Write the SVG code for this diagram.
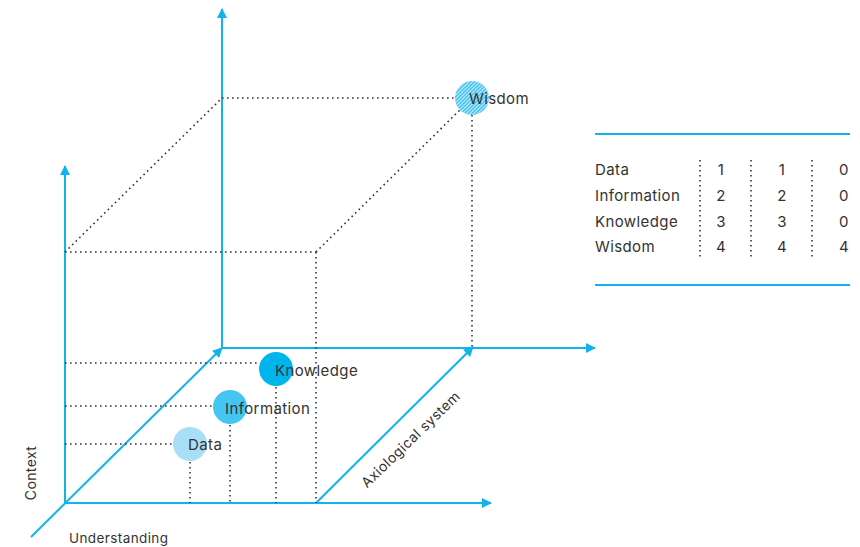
<svg xmlns="http://www.w3.org/2000/svg" width="860" height="547" viewBox="0 0 860 547">
<style>
.ax{stroke:#12b3ec;stroke-width:2;fill:none}
.dot{stroke:#333;stroke-width:1.6;stroke-dasharray:1.6 3.4;fill:none}
.t{font-family:"Inter","Liberation Sans",sans-serif;font-size:15px;letter-spacing:0.4px;fill:#333}
.tl{stroke:#12b3ec;stroke-width:2}
</style>
<defs>
<marker id="arr2" viewBox="0 0 10 10" refX="9" refY="5" markerWidth="12" markerHeight="10" orient="auto" markerUnits="userSpaceOnUse">
<path d="M0,0 L10,5 L0,10 z" fill="#12b3ec"/>
</marker>
<pattern id="hatch" width="2.6" height="2.6" patternUnits="userSpaceOnUse" patternTransform="rotate(-45)">
<rect width="2.6" height="2.6" fill="#c4eafb"/>
<rect width="2.6" height="1.3" fill="#2fbdf0"/>
</pattern>
</defs>
<g id="connectors">
<line class="ax" x1="65" y1="503" x2="65" y2="166" marker-end="url(#arr2)"/>
<line class="ax" x1="222" y1="348" x2="222" y2="9" marker-end="url(#arr2)"/>
<line class="ax" x1="65" y1="503" x2="491" y2="503" marker-end="url(#arr2)"/>
<line class="ax" x1="222" y1="348" x2="595" y2="348" marker-end="url(#arr2)"/>
<line class="ax" x1="31" y1="537" x2="222" y2="348" marker-end="url(#arr2)"/>
<line class="ax" x1="316" y1="503" x2="473" y2="347" marker-end="url(#arr2)"/>
<path class="dot" d="M65,252 L222,98 M65,252 H316 M316,252 L472,98 M222,98 H455 M316,252 V503 M472,115 V348"/>
<path class="dot" d="M65,363 H260 M65,406 H213 M65,444 H173 M190,462 V503 M230,425 V503 M276,387 V503"/>
</g>
<g id="node-data">
<circle cx="190" cy="444" r="17" fill="#a9def8"/>
<text class="t" x="188" y="450">Data</text>
</g>
<g id="node-information">
<circle cx="230" cy="407" r="17" fill="#45c5f2"/>
<text class="t" x="225" y="414">Information</text>
</g>
<g id="node-knowledge">
<circle cx="276" cy="369" r="17" fill="#00b5ec"/>
<text class="t" x="275" y="376">Knowledge</text>
</g>
<g id="node-wisdom">
<circle cx="472" cy="98" r="17" fill="url(#hatch)"/>
<text class="t" x="469" y="104">Wisdom</text>
</g>
<g id="axis-labels">
<text class="t" x="36" y="473" text-anchor="middle" transform="rotate(-90 36 473)" style="font-size:14px">Context</text>
<text class="t" x="69" y="543" style="font-size:13.5px">Understanding</text>
<text class="t" x="414" y="443" text-anchor="middle" transform="rotate(-44 414 443)" style="font-size:14px">Axiological system</text>
</g>
<g id="table">
<line class="tl" x1="595" y1="134" x2="850" y2="134"/>
<line class="tl" x1="595" y1="285" x2="850" y2="285"/>
<path class="dot" d="M700,160 V258 M751,160 V258 M812,160 V258"/>
<text class="t" x="595" y="175">Data</text>
<text class="t" x="595" y="201">Information</text>
<text class="t" x="595" y="227">Knowledge</text>
<text class="t" x="595" y="252">Wisdom</text>
<g text-anchor="middle">
<text class="t" x="721" y="175">1</text><text class="t" x="782" y="175">1</text><text class="t" x="844" y="175">0</text>
<text class="t" x="721" y="201">2</text><text class="t" x="782" y="201">2</text><text class="t" x="844" y="201">0</text>
<text class="t" x="721" y="227">3</text><text class="t" x="782" y="227">3</text><text class="t" x="844" y="227">0</text>
<text class="t" x="721" y="252">4</text><text class="t" x="782" y="252">4</text><text class="t" x="844" y="252">4</text>
</g>
</g>
</svg>
